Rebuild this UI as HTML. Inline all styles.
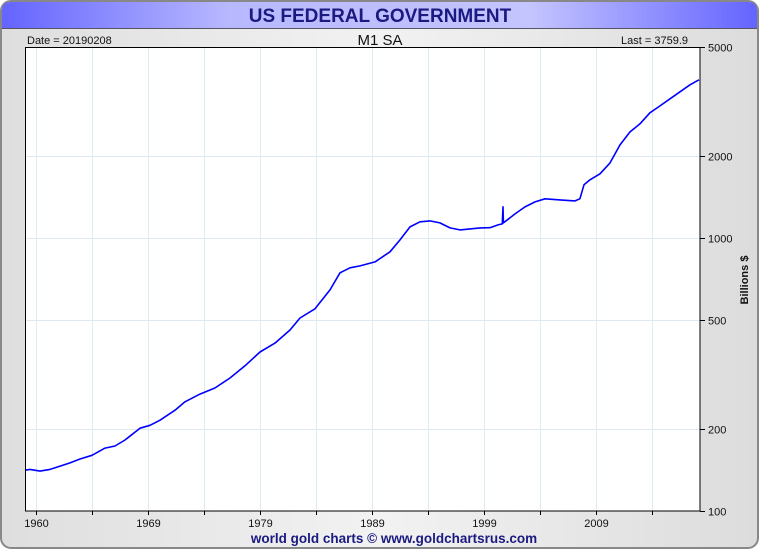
<!DOCTYPE html>
<html><head><meta charset="utf-8"><style>
body{margin:0;width:760px;height:550px;overflow:hidden;background:#fff;font-family:"Liberation Sans",sans-serif}
</style></head><body>
<svg width="760" height="550" viewBox="0 0 760 550">
<defs>
<linearGradient id="tb" x1="0" x2="1"><stop offset="0" stop-color="#6464ff"/><stop offset="0.3" stop-color="#b8b8ff"/><stop offset="0.7" stop-color="#c4c4ff"/><stop offset="1" stop-color="#6464ff"/></linearGradient>
<linearGradient id="bg" x1="0" x2="1"><stop offset="0" stop-color="#dedede"/><stop offset="0.5" stop-color="#f2f2f2"/><stop offset="1" stop-color="#dcdcdc"/></linearGradient>
</defs>
<rect x="1" y="1" width="757" height="547" rx="10" fill="url(#bg)" stroke="#888" stroke-width="2"/>
<path d="M2,28 L2,11 Q2,2 11,2 L748,2 Q757,2 757,11 L757,28 Z" fill="url(#tb)"/>
<line x1="2" y1="28.5" x2="757" y2="28.5" stroke="#556" stroke-width="1"/>
<text x="380" y="22" text-anchor="middle" font-size="19" font-weight="bold" fill="#1a1a80">US FEDERAL GOVERNMENT</text>
<text x="27" y="44" font-size="11" fill="#111">Date = 20190208</text>
<text x="380" y="45" text-anchor="middle" font-size="15" fill="#111">M1 SA</text>
<text x="688" y="44" text-anchor="end" font-size="11" fill="#111">Last = 3759.9</text>
<rect x="25" y="47" width="675" height="464" fill="#fff"/>
<g id="grid"></g>
<path id="line" fill="none" stroke="#0000ff" stroke-width="1.6" stroke-linejoin="round"/>
<rect x="25.5" y="47.5" width="674.5" height="463.5" fill="none" stroke="#000" stroke-width="1"/>
<g id="axes" font-size="11" fill="#111"></g>
<text transform="translate(748,280) rotate(-90)" text-anchor="middle" font-size="11" font-weight="bold" fill="#111">Billions $</text>
<text x="394" y="543" text-anchor="middle" font-size="13.5" font-weight="bold" fill="#1a1a80">world gold charts © www.goldchartsrus.com</text>
</svg>
<script>
const years=[1958.0,1958.45,1959.34,1960.23,1961.13,1962.02,1962.91,1963.98,1965.14,1966.04,1966.93,1968.27,1969.16,1970.05,1971.39,1972.29,1973.63,1974.96,1976.30,1977.64,1978.98,1980.32,1981.66,1982.55,1983.89,1985.23,1986.13,1987.02,1987.91,1989.25,1990.59,1991.48,1992.38,1993.27,1994.16,1995.05,1995.95,1996.84,1997.73,1998.63,1999.52,2000.23,2000.62,2000.68,2000.72,2001.75,2002.64,2003.54,2004.43,2005.77,2007.11,2007.55,2007.91,2008.45,2009.34,2010.23,2011.13,2012.02,2012.91,2013.80,2014.70,2015.59,2016.48,2017.38,2018.18];
const values=[141,142,140,142,146,150,155,160,170,173,182,201,206,215,234,251,268,282,307,340,382,412,460,509,550,645,745,777,790,817,889,983,1097,1145,1154,1135,1088,1070,1079,1088,1090,1116,1125,1300,1135,1224,1299,1355,1390,1378,1366,1390,1564,1632,1716,1882,2191,2445,2616,2871,3044,3230,3426,3635,3793];
const xTickYears=[1959,1964,1969,1974,1979,1984,1989,1994,1999,2004,2009,2014];
const xTickLabels=["1960","","1969","","1979","","1989","","1999","","2009",""];
const yTicks=[100,200,500,1000,2000,5000];
const yGridVals=[200,500,1000,2000];
const X0=25,X1=700,Y0=47,Y1=511,YR0=1958,YR1=2018.27,VMIN=100,VMAX=5000;
const xs=y=>X0+(y-YR0)/(YR1-YR0)*(X1-X0);
const ys=v=>Y1-(Math.log10(v)-Math.log10(VMIN))/(Math.log10(VMAX)-Math.log10(VMIN))*(Y1-Y0);
const NS="http://www.w3.org/2000/svg";
const grid=document.getElementById('grid'),axes=document.getElementById('axes');
function mk(tag,at,parent){const e=document.createElementNS(NS,tag);for(const k in at)e.setAttribute(k,at[k]);parent.appendChild(e);return e;}
xTickYears.forEach((yr,i)=>{const x=Math.round(xs(yr))+0.5;
 const g=mk('line',{x1:x,x2:x,y1:Y0,y2:Y1,stroke:'#dde9f3','stroke-width':1},grid);
 
 
 const t=mk('line',{x1:x,x2:x,y1:Y1,y2:Y1+4,stroke:'#000'},axes);
 
 
 if(xTickLabels[i]){const l=mk('text',{x:x,y:527,'text-anchor':'middle'},axes);l.textContent=xTickLabels[i];
 
 }
});
yGridVals.forEach(v=>{const y=Math.round(ys(v))+0.5;
 const g=mk('line',{x1:X0,x2:X1,y1:y,y2:y,stroke:'#dde9f3'},grid);
 
 });
yTicks.forEach(v=>{const y=Math.round(ys(v))+0.5;
 const t=mk('line',{x1:X1,x2:X1+5,y1:y,y2:y,stroke:'#000'},axes);
 
 
 const l=mk('text',{x:708,y:y+4},axes);l.textContent=v;
 
 });
document.getElementById('line').setAttribute('d',years.map((yr,i)=>(i?'L':'M')+xs(yr).toFixed(1)+','+ys(values[i]).toFixed(1)).join(''));
</script>
</body></html>
